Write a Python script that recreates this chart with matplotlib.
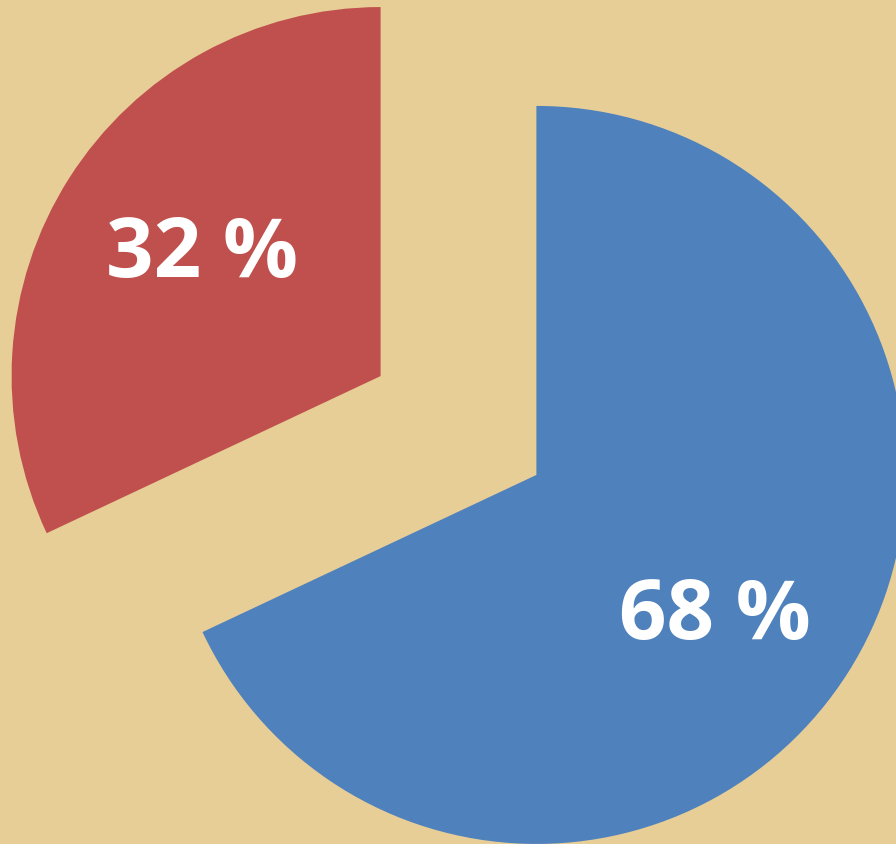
import numpy as np
import matplotlib.pyplot as plt

parts = ["Blue", "Red"]
shares = [68, 32]
colores = ["#4F81BD", "#C0504D"]
separacion = [0.25, 0.25]

fondo = "#E7CE97"

fig = plt.figure(figsize=(8.96, 8.45), dpi=100)
fig.patch.set_facecolor(fondo)
ax = fig.add_axes([0, 0, 1, 1])
ax.set_facecolor(fondo)

wedges, texts, autotexts = ax.pie(
    shares,
    colors=colores,
    explode=separacion,
    startangle=90,
    counterclock=False,
    autopct=lambda p: f"{p:.0f} %",
    pctdistance=0.6,
    textprops=dict(color="white", fontsize=60, fontweight="bold",
                   family=["Open Sans", "DejaVu Sans"]),
)

# labels sit a little clockwise of the wedge middle and slightly lower
for w, t in zip(wedges, autotexts):
    cx, cy = w.center
    x, y = t.get_position()
    a = np.deg2rad(-4)
    dx, dy = x - cx, y - cy
    t.set_position((cx + dx * np.cos(a) - dy * np.sin(a),
                    cy + dx * np.sin(a) + dy * np.cos(a) - 0.027))

ax.set_xlim(-1.2425, 1.1856)
ax.set_ylim(-1.1341, 1.1558)
ax.set_aspect("auto")
ax.axis("off")

fig.savefig("out.png", dpi=100, facecolor=fondo)
